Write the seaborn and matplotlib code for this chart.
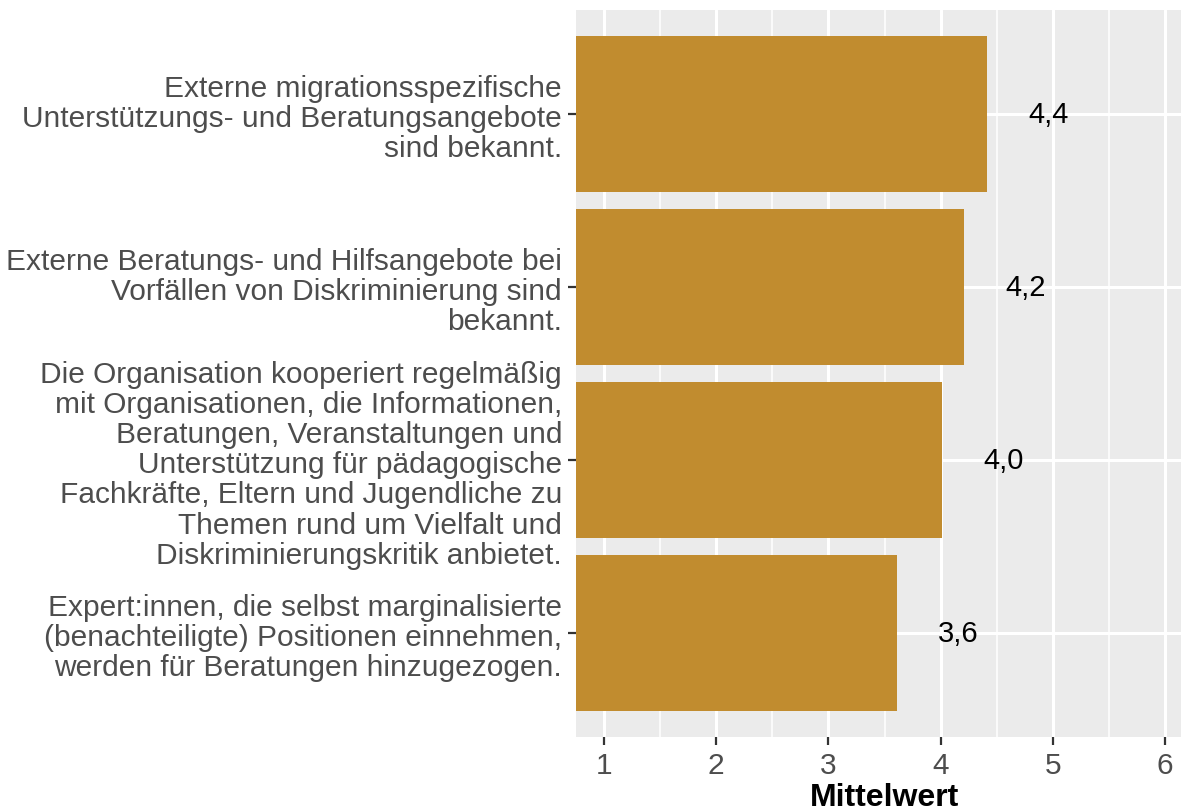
import pandas as pd
import numpy as np
import matplotlib
matplotlib.use("Agg")
import matplotlib.pyplot as plt
import seaborn as sns

# Daten
items = [
    "Externe migrationsspezifische\nUnterstützungs- und Beratungsangebote\nsind bekannt.",
    "Externe Beratungs- und Hilfsangebote bei\nVorfällen von Diskriminierung sind\nbekannt.",
    "Die Organisation kooperiert regelmäßig\nmit Organisationen, die Informationen,\nBeratungen, Veranstaltungen und\nUnterstützung für pädagogische\nFachkräfte, Eltern und Jugendliche zu\nThemen rund um Vielfalt und\nDiskriminierungskritik anbietet.",
    "Expert:innen, die selbst marginalisierte\n(benachteiligte) Positionen einnehmen,\nwerden für Beratungen hinzugezogen.",
]
mittelwert = [4.41, 4.21, 4.01, 3.61]
x_ticks = [1, 2, 3, 4, 5, 6]

df = pd.DataFrame({"item": items, "mittelwert": mittelwert})
df["label"] = [f"{v:.1f}".replace(".", ",") for v in df["mittelwert"]]

sns.set_theme(style="darkgrid")
plt.rcParams["font.family"] = ["Liberation Sans", "DejaVu Sans"]

fig = plt.figure(figsize=(11.81, 8.12), dpi=100)
ax = fig.add_axes([0.4877, 0.0911, 0.5225, 0.8954])
ax.set_facecolor("#EBEBEB")

sns.barplot(data=df, x="mittelwert", y="item", order=items, color="#C18C2F",
            width=0.9, saturation=1, linewidth=0, ax=ax, zorder=3)

# Werte neben den Balken
for i, row in df.iterrows():
    ax.text(row["mittelwert"] + 0.55, i, row["label"], ha="center", va="center",
            fontsize=21, color="black", zorder=4)

ax.set_xlim(0.75, 6.25)
ax.set_ylim(3.6, -0.6)
ax.set_xticks(x_ticks)
ax.set_xticks(np.arange(1.5, 6.5, 1), minor=True)
ax.grid(which="major", color="white", linewidth=2.2, zorder=0)
ax.grid(which="minor", axis="x", color="white", linewidth=1.1, zorder=0)
ax.set_axisbelow(True)
for s in ax.spines.values():
    s.set_visible(False)

ax.tick_params(axis="both", which="major", length=6, width=1.6, color="#333333",
               labelsize=21.5, labelcolor="#4D4D4D", pad=4, bottom=True, left=True)
ax.tick_params(axis="x", which="minor", length=0)
for lbl in ax.get_yticklabels():
    lbl.set_linespacing(1.1)
    lbl.set_horizontalalignment("right")

ax.set_xlabel("Mittelwert", fontsize=23, fontweight="bold", color="black", labelpad=2)
ax.set_ylabel("")

fig.savefig("out.png", dpi=100)
